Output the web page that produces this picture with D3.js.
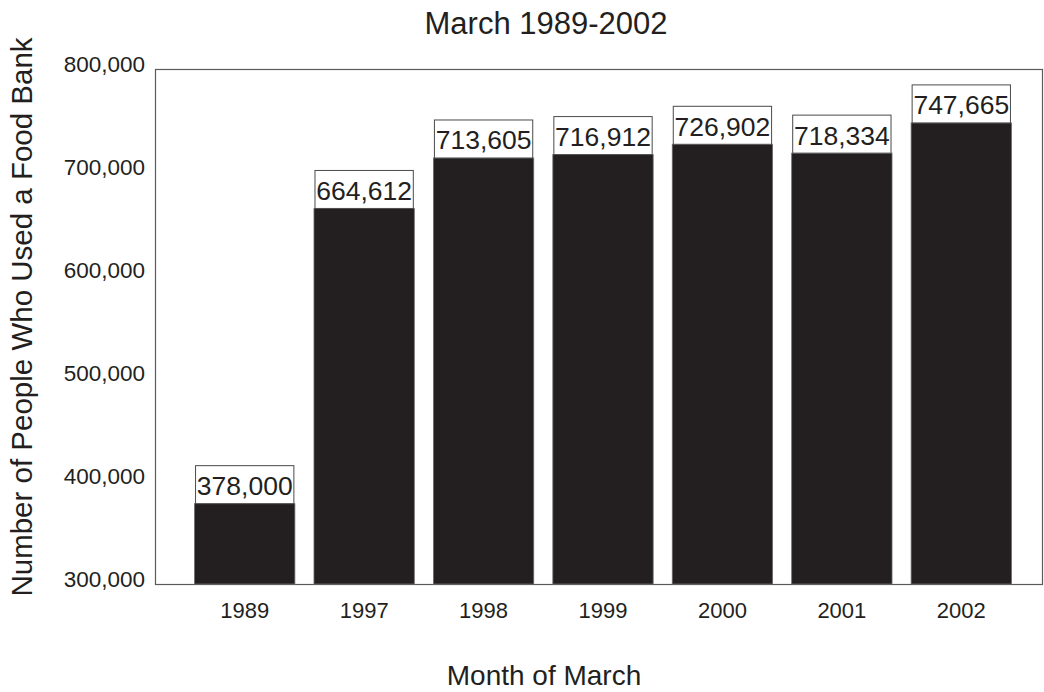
<!DOCTYPE html>
<html>
<head>
<meta charset="utf-8">
<script src="https://cdn.jsdelivr.net/npm/d3@7"></script>
<style>
  html, body { margin: 0; padding: 0; background: #fff; }
  svg { display: block; }
  text { font-family: "Liberation Sans", Arial, sans-serif; fill: #231f20; }
</style>
</head>
<body>
<svg id="chart" width="1044" height="692"></svg>
<script>
// Food bank usage, month of March
const years = ["1989", "1997", "1998", "1999", "2000", "2001", "2002"];
const people = [378000, 664612, 713605, 716912, 726902, 718334, 747665];
const yTicks = [300000, 400000, 500000, 600000, 700000, 800000];

const chartTitle = "March 1989-2002";
const xTitle = "Month of March";
const yTitle = "Number of People Who Used a Food Bank";

const svg = d3.select("#chart");
const plot = { left: 155, right: 1042, top: 69, bottom: 584 };
const ink = "#231f20";

const x = d3.scaleBand()
  .domain(years)
  .range([185, 1021])
  .paddingInner(0.16)
  .paddingOuter(0.08);

const y = d3.scaleLinear()
  .domain([300000, 800000])
  .range([plot.bottom, plot.top]);

const fmt = d3.format(",");

// plot frame
svg.append("rect")
  .attr("x", plot.left + 0.5)
  .attr("y", plot.top + 0.5)
  .attr("width", plot.right - plot.left)
  .attr("height", plot.bottom - plot.top)
  .attr("fill", "none")
  .attr("stroke", "#5a5a5a")
  .attr("stroke-width", 1.2);

// bars
svg.append("g").selectAll("rect")
  .data(years.map((yr, i) => ({ yr, v: people[i] })))
  .join("rect")
  .attr("x", d => x(d.yr))
  .attr("y", d => y(d.v))
  .attr("width", x.bandwidth())
  .attr("height", d => plot.bottom - y(d.v))
  .attr("fill", ink)
  .attr("stroke", "#6a6a6a")
  .attr("stroke-width", 0.8);

// value boxes sitting on top of each bar
const boxH = 38;
const labels = svg.append("g").selectAll("g")
  .data(years.map((yr, i) => ({ yr, v: people[i] })))
  .join("g")
  .attr("transform", d => `translate(${x(d.yr) + x.bandwidth() / 2},${y(d.v)})`);

labels.append("rect")
  .attr("x", -(x.bandwidth() - 2) / 2)
  .attr("y", -boxH)
  .attr("width", x.bandwidth() - 2)
  .attr("height", boxH)
  .attr("fill", "#fff")
  .attr("stroke", "#4a4a4a")
  .attr("stroke-width", 1);

labels.append("text")
  .attr("text-anchor", "middle")
  .attr("y", -8.5)
  .attr("font-size", 26.5)
  .text(d => fmt(d.v));

// y axis
const yAxis = svg.append("g")
  .attr("transform", `translate(${plot.left},0)`)
  .call(d3.axisLeft(y).tickValues(yTicks).tickFormat(fmt).tickSize(0).tickPadding(10));
yAxis.select(".domain").remove();
yAxis.selectAll("text")
  .attr("font-size", 22.5)
  .attr("font-family", "Liberation Sans, Arial, sans-serif")
  .attr("fill", ink)
  .attr("dy", "0.1em");

// x axis
const xAxis = svg.append("g")
  .attr("transform", `translate(0,${plot.bottom})`)
  .call(d3.axisBottom(x).tickSize(0).tickPadding(18));
xAxis.select(".domain").remove();
xAxis.selectAll("text")
  .attr("font-size", 22)
  .attr("font-family", "Liberation Sans, Arial, sans-serif")
  .attr("fill", ink);

// titles
svg.append("text")
  .attr("x", 546)
  .attr("y", 34)
  .attr("text-anchor", "middle")
  .attr("font-size", 31)
  .text(chartTitle);

svg.append("text")
  .attr("x", 544)
  .attr("y", 685)
  .attr("text-anchor", "middle")
  .attr("font-size", 28)
  .text(xTitle);

svg.append("text")
  .attr("transform", "translate(32,317) rotate(-90)")
  .attr("text-anchor", "middle")
  .attr("font-size", 29.5)
  .text(yTitle);
</script>
</body>
</html>
